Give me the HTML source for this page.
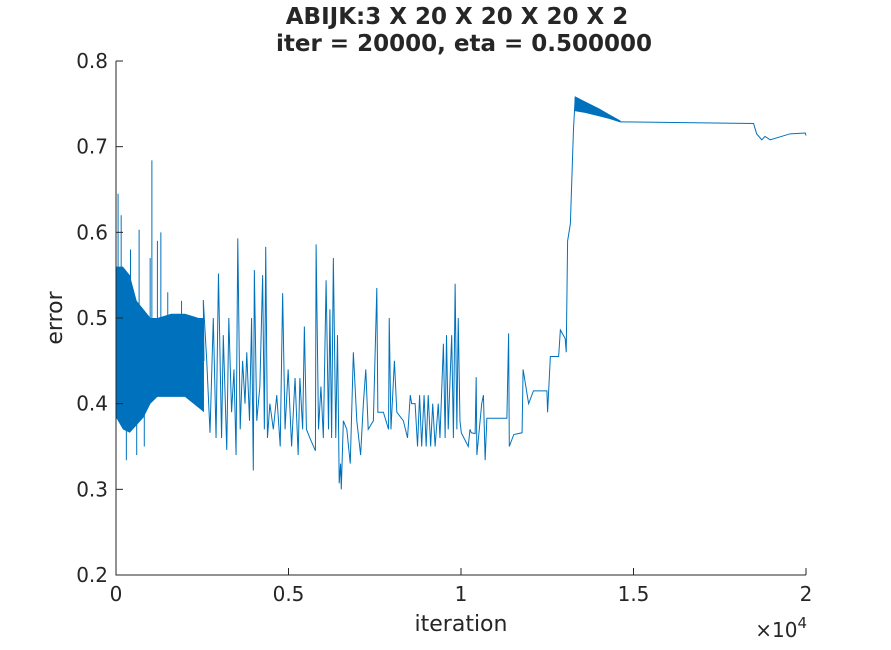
<!DOCTYPE html>
<html><head><meta charset="utf-8"><style>
body{margin:0;background:#fff;}
svg text{font-family:"DejaVu Sans","Liberation Sans",sans-serif;fill:#262626;}
</style></head><body>
<svg id="chart" width="891" height="645" xmlns="http://www.w3.org/2000/svg">
<rect width="891" height="645" fill="#fff"/>
<text x="457" y="24" text-anchor="middle" font-size="23" font-weight="bold" fill="#000">ABIJK:3 X 20 X 20 X 20 X 2</text>
<text x="464" y="51" text-anchor="middle" font-size="23" font-weight="bold" fill="#000">iter = 20000, eta = 0.500000</text>
<g id="plot"></g>
<g id="axes"></g>
<text x="461" y="631" text-anchor="middle" font-size="22">iteration</text>
<text transform="translate(62,318) rotate(-90)" text-anchor="middle" font-size="22">error</text>
<text x="807" y="637" text-anchor="end" font-size="20">×10<tspan dy="-9" font-size="15">4</tspan></text>
</svg>
<script>
var xTicks=[0,5000,10000,15000,20000];
var xTickLabels=["0","0.5","1","1.5","2"];
var yTicks=[0.2,0.3,0.4,0.5,0.6,0.7,0.8];
var yTickLabels=["0.2","0.3","0.4","0.5","0.6","0.7","0.8"];
var bandIter=[0,200,400,600,800,1000,1200,1600,2000,2400,2550];
var bandUpper=[0.56,0.56,0.55,0.52,0.51,0.50,0.50,0.505,0.505,0.50,0.50];
var bandLower=[0.384,0.37,0.366,0.375,0.384,0.40,0.408,0.408,0.408,0.395,0.39];
var spikeIter=[0,60,150,300,420,600,670,820,990,1040,1200,1300,1500,1900];
var spikeVal=[0.296,0.645,0.62,0.334,0.58,0.34,0.603,0.35,0.57,0.684,0.59,0.60,0.53,0.52];
var spikeBase=[0.42,0.45,0.45,0.40,0.44,0.40,0.44,0.40,0.44,0.45,0.45,0.45,0.45,0.45];
var lineIter=[2530,2630,2725,2820,2900,2970,3060,3110,3210,3270,3350,3420,3480,3530,3600,3670,3740,3790,3870,3930,3980,4010,4080,4170,4250,4300,4340,4390,4460,4560,4660,4760,4830,4900,4990,5090,5190,5280,5330,5410,5460,5520,5620,5780,5800,5870,5940,6010,6090,6160,6200,6250,6300,6370,6420,6470,6510,6530,6590,6690,6790,6880,6980,7090,7170,7240,7310,7460,7560,7590,7750,7900,7920,7970,8070,8140,8330,8450,8530,8570,8670,8740,8800,8860,8930,8990,9050,9120,9180,9250,9340,9390,9490,9540,9580,9630,9730,9780,9830,9880,9920,9970,10010,10210,10260,10300,10410,10440,10460,10600,10650,10700,10750,11330,11380,11400,11530,11770,11800,11960,12100,12490,12510,12590,12830,12880,13020,13050,13090,13170,13260,13310];
var lineVal=[0.521,0.45,0.366,0.50,0.36,0.552,0.36,0.48,0.346,0.50,0.39,0.44,0.34,0.593,0.37,0.45,0.40,0.46,0.38,0.50,0.322,0.556,0.38,0.42,0.55,0.37,0.583,0.36,0.40,0.37,0.41,0.35,0.529,0.37,0.44,0.35,0.43,0.34,0.43,0.37,0.49,0.37,0.36,0.345,0.586,0.37,0.42,0.36,0.544,0.37,0.51,0.36,0.57,0.36,0.48,0.307,0.33,0.30,0.38,0.37,0.33,0.46,0.38,0.34,0.40,0.44,0.37,0.38,0.535,0.39,0.39,0.37,0.50,0.37,0.45,0.39,0.38,0.36,0.41,0.40,0.40,0.35,0.41,0.35,0.41,0.35,0.41,0.35,0.40,0.35,0.40,0.36,0.47,0.36,0.48,0.37,0.48,0.36,0.54,0.37,0.50,0.38,0.366,0.35,0.37,0.366,0.365,0.431,0.34,0.40,0.41,0.334,0.383,0.383,0.482,0.35,0.364,0.366,0.44,0.40,0.415,0.415,0.39,0.455,0.455,0.486,0.476,0.46,0.59,0.61,0.72,0.757];
var hiIter=[13310,13600,14000,14300,14610];
var hiUpper=[0.758,0.752,0.744,0.737,0.730];
var hiLower=[0.742,0.740,0.736,0.733,0.729];
var tailIter=[14610,18480,18570,18720,18810,18960,19540,19980,20000];
var tailVal=[0.729,0.727,0.715,0.708,0.712,0.708,0.715,0.716,0.713];

var X0=116,X1=806,Y0=575,Y1=61;
function sx(v){return X0+(v-0)/(20000-0)*(X1-X0);}
function sy(v){return Y0-(v-0.2)/(0.8-0.2)*(Y0-Y1);}
var NS="http://www.w3.org/2000/svg";
var plot=document.getElementById('plot'),axes=document.getElementById('axes');
var C="#0072BD";
function mk(t,a,p){var e=document.createElementNS(NS,t);for(var k in a)e.setAttribute(k,a[k]);p.appendChild(e);return e;}

var pts=[];
for(var i=0;i<bandIter.length;i++)pts.push(sx(bandIter[i])+','+sy(bandUpper[i]));
for(var i=bandIter.length-1;i>=0;i--)pts.push(sx(bandIter[i])+','+sy(bandLower[i]));
var b=mk('polygon',{points:pts.join(' '),fill:C},plot);



for(var i=0;i<spikeIter.length;i++){
var s=mk('line',{x1:sx(spikeIter[i]),x2:sx(spikeIter[i]),y1:sy(spikeBase[i]),y2:sy(spikeVal[i]),stroke:C,'stroke-width':1},plot);


}

var lp=['M',sx(bandIter[bandIter.length-1]),sy(0.45)];
for(var i=0;i<lineIter.length;i++)lp.push('L',sx(lineIter[i]),sy(lineVal[i]));
var l=mk('path',{d:lp.join(' '),fill:'none',stroke:C,'stroke-width':1},plot);



var hp=[];
for(var i=0;i<hiIter.length;i++)hp.push(sx(hiIter[i])+','+sy(hiUpper[i]));
for(var i=hiIter.length-1;i>=0;i--)hp.push(sx(hiIter[i])+','+sy(hiLower[i]));
var h=mk('polygon',{points:hp.join(' '),fill:C,stroke:C,'stroke-width':1},plot);



var tp=[];
for(var i=0;i<tailIter.length;i++)tp.push((i?'L':'M')+sx(tailIter[i])+','+sy(tailVal[i]));
var t=mk('path',{d:tp.join(' '),fill:'none',stroke:C,'stroke-width':1},plot);



var ax=mk('path',{d:'M'+X0+','+Y1+' L'+X0+','+Y0+' L'+X1+','+Y0,fill:'none',stroke:'#262626','stroke-width':1},axes);


for(var i=0;i<xTicks.length;i++){
var x=sx(xTicks[i]);
mk('line',{x1:x,x2:x,y1:Y0,y2:Y0-7,stroke:'#262626'},axes);
var tx=mk('text',{x:x,y:Y0+26,'text-anchor':'middle','font-size':20},axes);
tx.textContent=xTickLabels[i];


}
for(var i=0;i<yTicks.length;i++){
var y=sy(yTicks[i]);
mk('line',{x1:X0,x2:X0+7,y1:y,y2:y,stroke:'#262626'},axes);
var ty=mk('text',{x:X0-8,y:y+7,'text-anchor':'end','font-size':20},axes);
ty.textContent=yTickLabels[i];


}
</script>
</body></html>
